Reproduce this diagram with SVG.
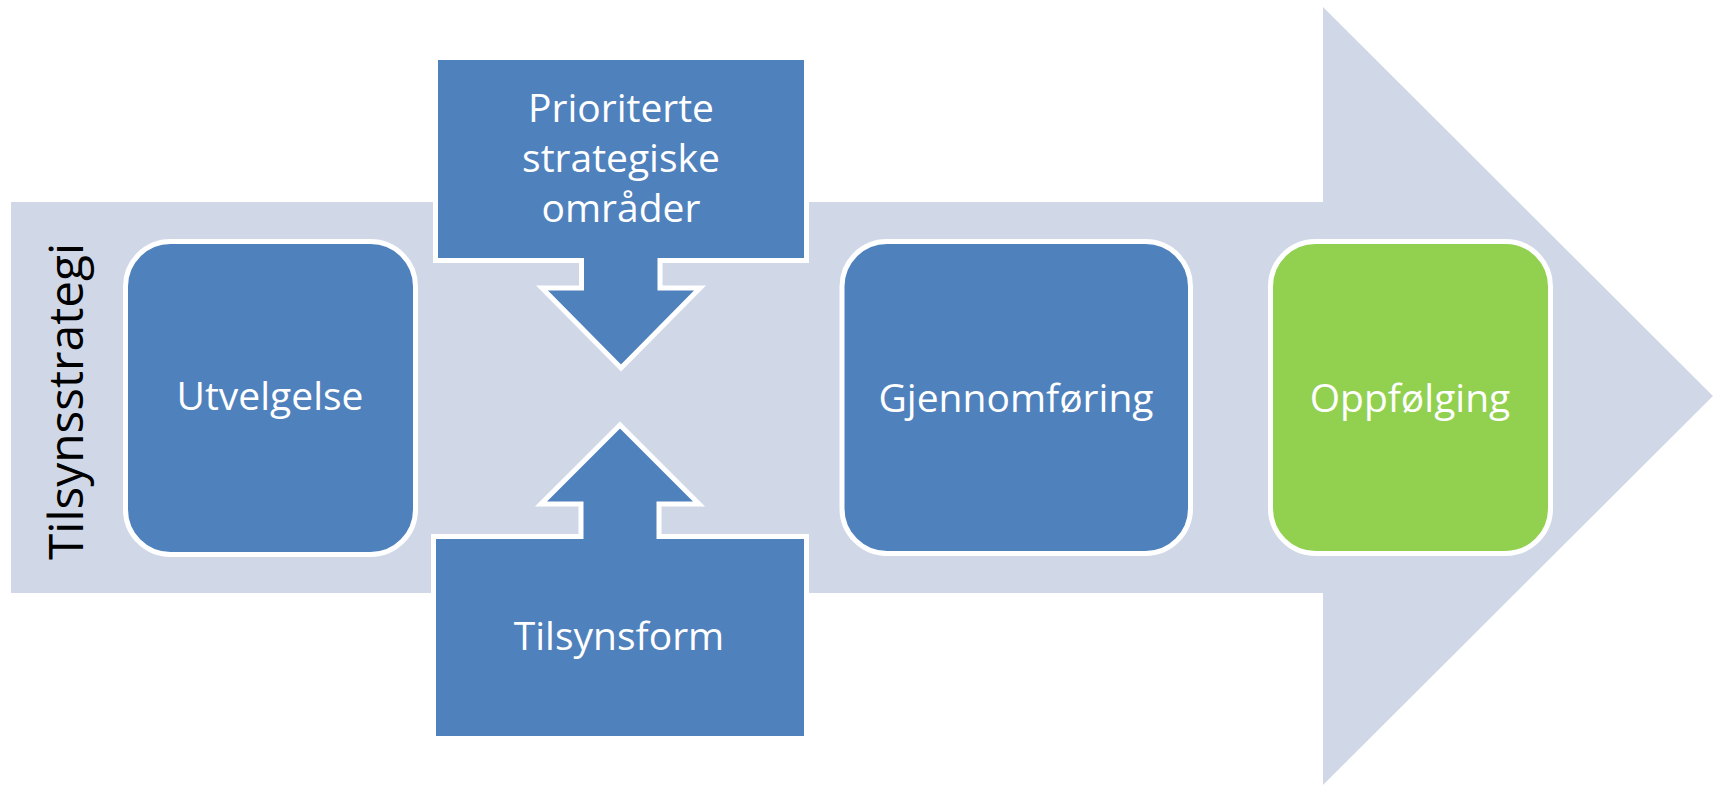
<svg xmlns="http://www.w3.org/2000/svg" width="1714" height="786" viewBox="0 0 1714 786">
<style>
.bg{fill:#D0D8E8}
.blue{fill:#4F81BD;stroke:#FFFFFF;stroke-width:5;stroke-linejoin:miter}
.green{fill:#92D050;stroke:#FFFFFF;stroke-width:5}
.t{font-family:"Open Sans","Liberation Sans",sans-serif;font-size:39px;fill:#FFFFFF;text-anchor:middle}
.side{font-family:"Open Sans","Liberation Sans",sans-serif;font-size:48px;fill:#000000;text-anchor:middle}
</style>
<g id="main-arrow">
<path class="bg" d="M11,202 H1323 V7 L1713,396 L1323,785 V593 H11 Z"/>
</g>
<g id="label-tilsynsstrategi">
<text class="side" transform="translate(83,401.5) rotate(-90)" x="0" y="0" textLength="317" lengthAdjust="spacingAndGlyphs">Tilsynsstrategi</text>
</g>
<g id="node-utvelgelse">
<rect class="blue" x="125.5" y="241.5" width="290" height="313" rx="45" ry="45"/>
<text class="t" x="270" y="410">Utvelgelse</text>
</g>
<g id="node-prioriterte">
<path class="blue" d="M435.5,57.5 H806.5 V260.5 H660 V288 H700 L621,368 L542,288 H581.5 V260.5 H435.5 Z"/>
<text class="t" x="621" y="122">Prioriterte</text>
<text class="t" x="621" y="172">strategiske</text>
<text class="t" x="621" y="222">områder</text>
</g>
<g id="node-tilsynsform">
<path class="blue" d="M433.5,536.5 H581 V504 H541 L620,425 L699,504 H659 V536.5 H806.5 V738.5 H433.5 Z"/>
<text class="t" x="619" y="650">Tilsynsform</text>
</g>
<g id="node-gjennomforing">
<rect class="blue" x="842" y="241.5" width="348.5" height="312" rx="45" ry="45"/>
<text class="t" x="1016" y="412">Gjennomføring</text>
</g>
<g id="node-oppfolging">
<rect class="green" x="1270.5" y="241.5" width="280" height="312" rx="45" ry="45"/>
<text class="t" x="1410" y="412">Oppfølging</text>
</g>
<g id="connectors"></g>
</svg>
